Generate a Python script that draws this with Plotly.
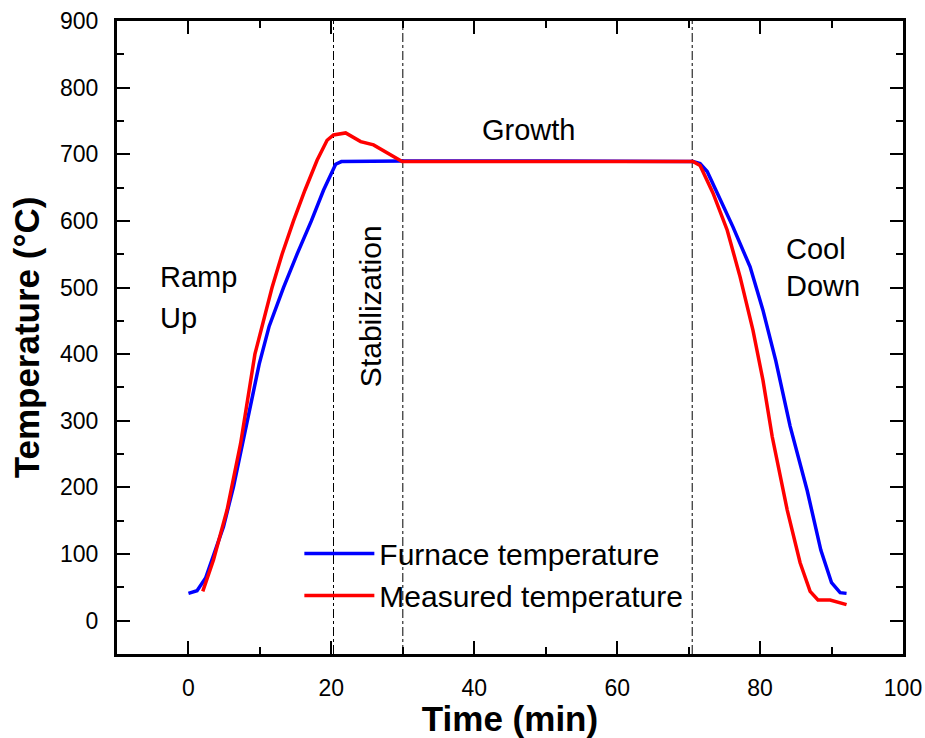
import plotly.graph_objects as go

# Furnace temperature (blue)
furnace_time = [0, 1.2, 2.4, 4.9, 6.3, 8.3, 9.9, 11.3, 13.3, 15.2, 17.2, 18.9, 20.0, 20.6, 21.4,
                30, 50, 70.6, 71.6, 72.6, 74, 76.2, 78.6, 80.4, 82.2, 84.2, 86.6, 88.5, 90.0, 91.2, 92.1]
furnace_temp = [41, 45, 64, 141, 201, 300, 385, 442, 500, 550, 600, 646, 673, 685, 689,
                690, 690, 689, 686, 674, 642, 591, 531, 466, 390, 292, 195, 106, 57, 42, 41]

# Measured temperature (red)
measured_time = [2.0, 3.5, 5.4, 7.3, 9.3, 10.5, 11.7, 13.1, 14.7, 16.3, 18.0, 19.4, 20.3, 22.0, 24.1,
                 25.9, 27.8, 29.9, 50, 70.6, 71.6, 72.4, 73.4, 75.4, 77.2, 79.0, 80.4, 81.7,
                 83.8, 85.6, 87.0, 88.1, 89.8, 92.1]
measured_temp = [44, 91, 166, 266, 400, 452, 500, 550, 600, 646, 691, 721, 729, 732, 719,
                 714, 702, 689, 689, 689, 683, 666, 642, 586, 516, 436, 361, 276,
                 166, 87, 44, 31, 31, 24]

phase_boundaries = [20.3, 30, 70.5]

FONT = "Arial, Liberation Sans, sans-serif"

fig = go.Figure()
fig.add_trace(go.Scatter(x=furnace_time, y=furnace_temp, mode="lines",
                         name="Furnace temperature",
                         line=dict(color="#0000ff", width=3.5)))
fig.add_trace(go.Scatter(x=measured_time, y=measured_temp, mode="lines",
                         name="Measured temperature",
                         line=dict(color="#ff0000", width=3.5)))

for xb in phase_boundaries:
    fig.add_shape(type="line", xref="x", yref="paper", x0=xb, x1=xb, y0=0, y1=1,
                  line=dict(color="black", width=1, dash="dashdot"), layer="below")

ann_font = dict(family=FONT, size=29, color="black")
fig.add_annotation(x=-4.2, y=516, text="Ramp", xanchor="left", yanchor="middle",
                   showarrow=False, font=ann_font)
fig.add_annotation(x=-4.2, y=455, text="Up", xanchor="left", yanchor="middle",
                   showarrow=False, font=ann_font)
fig.add_annotation(x=25.4, y=472, text="Stabilization", textangle=-90,
                   xanchor="center", yanchor="middle", showarrow=False,
                   font=dict(family=FONT, size=30, color="black"))
fig.add_annotation(x=47.6, y=736, text="Growth", xanchor="center", yanchor="middle",
                   showarrow=False, font=ann_font)
fig.add_annotation(x=83.4, y=558, text="Cool", xanchor="left", yanchor="middle",
                   showarrow=False, font=ann_font)
fig.add_annotation(x=83.4, y=502, text="Down", xanchor="left", yanchor="middle",
                   showarrow=False, font=ann_font)

axis_common = dict(
    showline=True, linecolor="black", linewidth=3, mirror="ticks",
    ticks="inside", ticklen=13, tickwidth=2, tickcolor="black",
    showgrid=False, zeroline=False, automargin=False,
    tickfont=dict(family=FONT, size=23, color="black"),
)

fig.update_xaxes(
    range=[-10, 100], tick0=0, dtick=20,
    minor=dict(ticks="inside", ticklen=7, tickwidth=2, tickcolor="black", dtick=10, tick0=0),
    title=dict(text="<b>Time (min)</b>", font=dict(family=FONT, size=35, color="black"),
               standoff=20),
    ticklabelstandoff=11,
    **axis_common)
fig.update_yaxes(
    range=[-50, 900], tick0=0, dtick=100,
    minor=dict(ticks="inside", ticklen=7, tickwidth=2, tickcolor="black", dtick=50, tick0=0),
    title=dict(text="<b>Temperature (°C)</b>", font=dict(family=FONT, size=35, color="black"),
               standoff=10),
    ticklabelstandoff=11,
    **axis_common)

fig.update_layout(
    width=925, height=738,
    margin=dict(l=117, r=22, t=21, b=84),
    paper_bgcolor="white", plot_bgcolor="white",
    font=dict(family=FONT, color="black"),
    legend=dict(x=0.232, y=0.2, xanchor="left", yanchor="top",
                bgcolor="rgba(0,0,0,0)", borderwidth=0,
                font=dict(family=FONT, size=30, color="black"),
                itemwidth=70, tracegroupgap=0),
)

fig.write_html("out.html")
